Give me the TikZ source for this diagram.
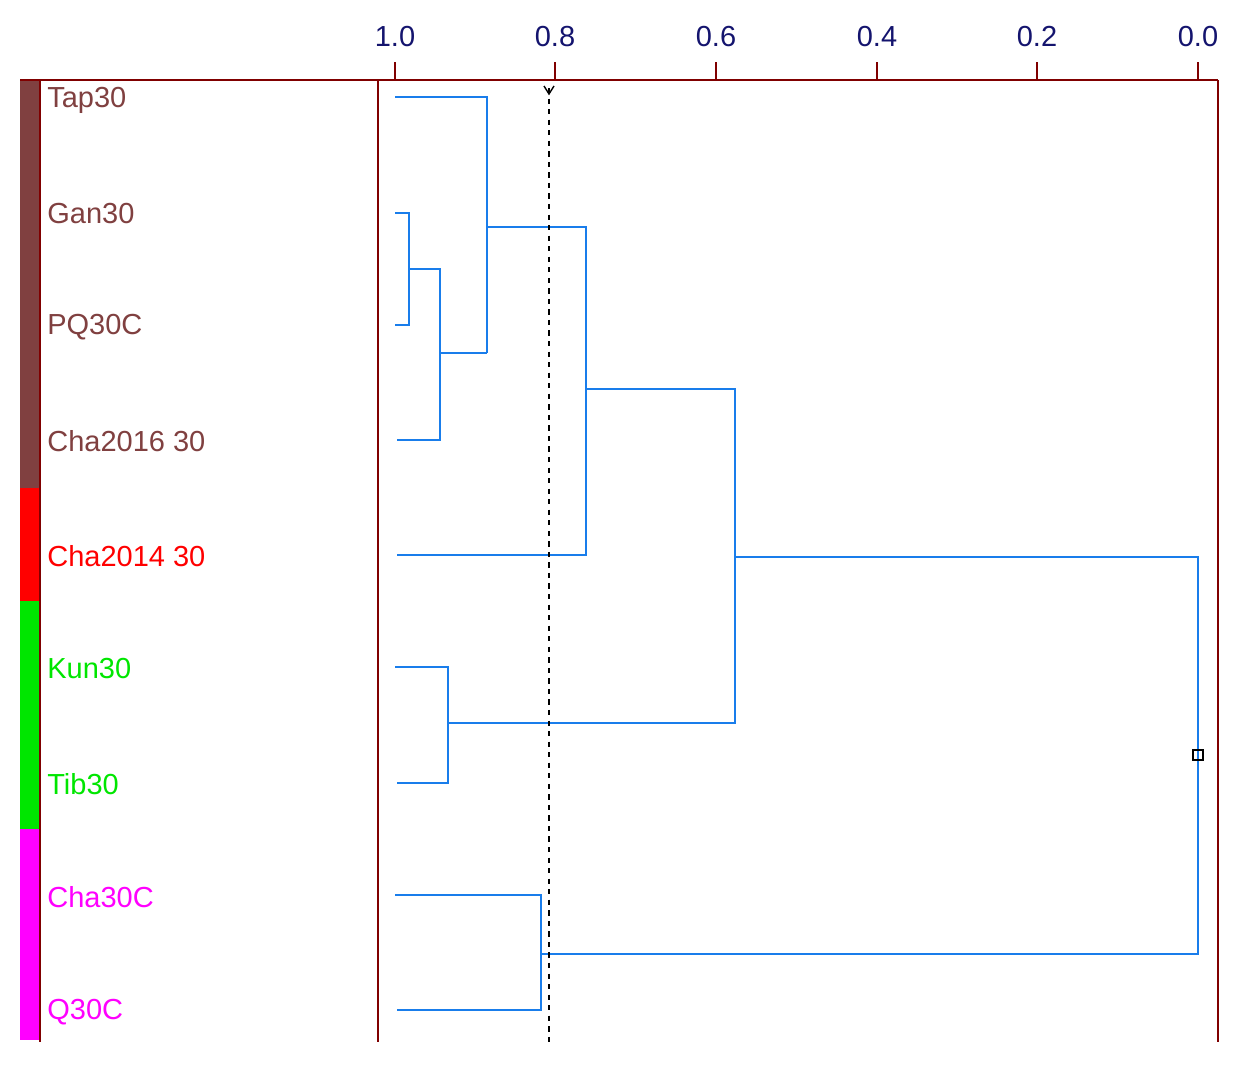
\documentclass[tikz,border=0pt]{standalone}
\usepackage{fontspec}
\setmainfont{Liberation Sans}
\definecolor{frm}{RGB}{128,0,0}
\definecolor{brn}{RGB}{128,64,64}
\definecolor{blu}{RGB}{25,125,235}
\definecolor{nav}{RGB}{20,20,110}
\definecolor{grn}{RGB}{0,230,0}
\definecolor{mag}{RGB}{255,0,255}
\begin{document}
\begin{tikzpicture}[x=0.02cm,y=-0.02cm,
  br/.style={blu,line width=1.2pt},
  lab/.style={anchor=west,font=\fontsize{16.5}{16.5}\selectfont,inner sep=0pt},
  ax/.style={font=\fontsize{16.5}{16.5}\selectfont,nav}]
\useasboundingbox (0,0) rectangle (1243,1072);
% color bar
\fill[brn] (20,80) rectangle (40,488);
\fill[red] (20,488) rectangle (40,601);
\fill[grn] (20,601) rectangle (40,829);
\fill[mag] (20,829) rectangle (40,1040);
% frame
\draw[frm,line width=1.2pt] (20,80) -- (1218,80);
\draw[frm,line width=1.2pt] (40,80) -- (40,1042);
\draw[frm,line width=1.2pt] (378,80) -- (378,1042);
\draw[frm,line width=1.2pt] (1218,80) -- (1218,1042);
\foreach \x/\l in {395/1.0,555/0.8,716/0.6,877/0.4,1037/0.2,1198/0.0}{
  \draw[frm,line width=1.2pt] (\x,62) -- (\x,80);
  \node[ax] (t\x) at (\x,37) {\l};}
% labels
\node[lab,brn] (l1) at (47,100) {Tap30};
\node[lab,brn] (l2) at (47,214) {Gan30};
\node[lab,brn] (l3) at (47,327) {PQ30C};
\node[lab,brn] (l4) at (47,441) {Cha2016 30};
\node[lab,red] (l5) at (47,556) {Cha2014 30};
\node[lab,grn] (l6) at (47,669) {Kun30};
\node[lab,grn] (l7) at (47,784) {Tib30};
\node[lab,mag] (l8) at (47,897) {Cha30C};
\node[lab,mag] (l9) at (47,1012) {Q30C};
% dendrogram
\draw[br] (395,97) -| (487,353);
\draw[br] (395,213) -| (409,325) -- (395,325);
\draw[br] (409,269) -| (440,440) -- (397,440);
\draw[br] (440,353) -- (487,353);
\draw[br] (487,227) -| (586,555) -- (397,555);
\draw[br] (586,389) -| (735,723) -- (448,723);
\draw[br] (395,667) -| (448,783) -- (397,783);
\draw[br] (735,557) -| (1198,954) -- (541,954);
\draw[br] (395,895) -| (541,1010) -- (397,1010);
\draw[line width=0.8pt] (1193,750) rectangle (1203,760);
% cut line
\draw[dashed,line width=1.2pt] (549,88) -- (549,1042);
\draw[line width=0.8pt] (544,86) -- (549,94) -- (554,86);
\end{tikzpicture}
\end{document}
